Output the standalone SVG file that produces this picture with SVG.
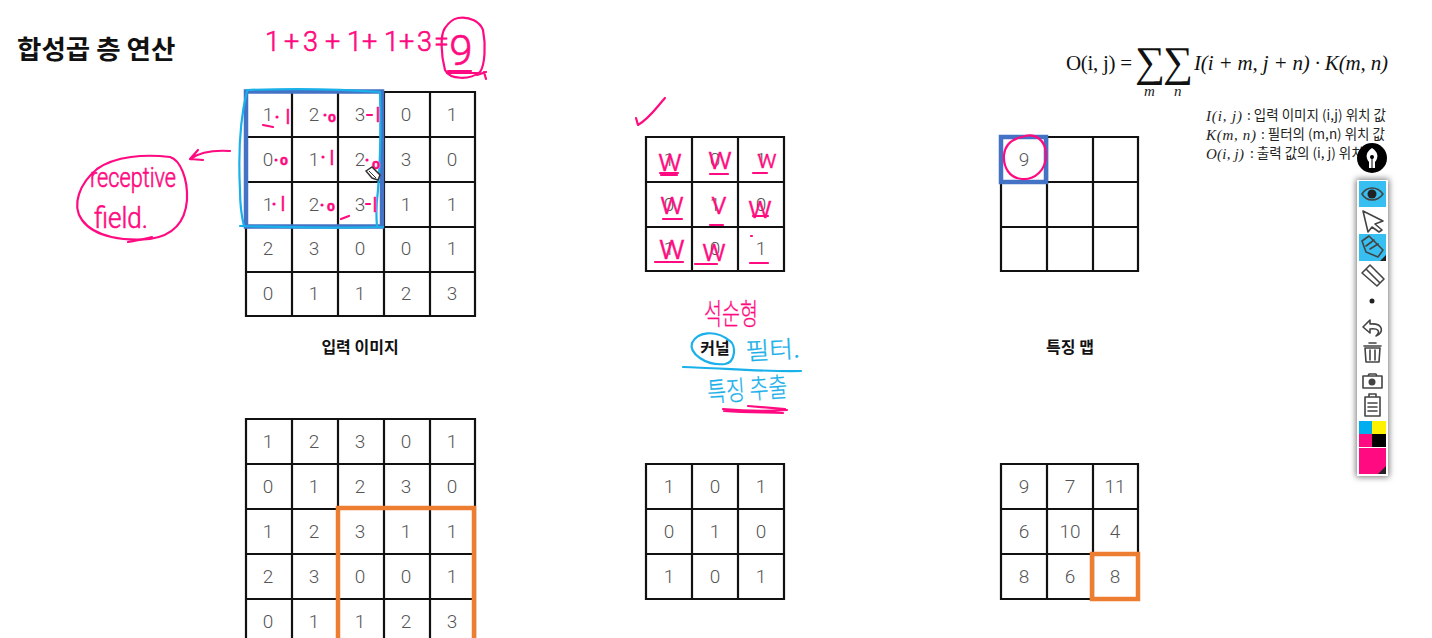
<svg xmlns="http://www.w3.org/2000/svg" width="1432" height="638" viewBox="0 0 1432 638">
<defs>
<filter id="sh" x="-40%" y="-10%" width="180%" height="120%"><feGaussianBlur stdDeviation="3"/></filter>
</defs>
<style>
.cell{fill:none;stroke:#111;stroke-width:2.2}
.n{font:300 19px Roboto,"Noto Sans",sans-serif;fill:#555;text-anchor:middle}
.lb{font:700 16px "Noto Sans CJK KR",sans-serif;fill:#111;text-anchor:middle}
.ttl{font:700 26.5px "Noto Sans CJK KR",sans-serif;fill:#111}
.m{font:21px "Liberation Serif",serif;fill:#111}
.mi{font:italic 21px "Liberation Serif",serif;fill:#111}
.d{font:13.5px "Noto Sans CJK KR",sans-serif;fill:#222}
.dm{font:italic 15px "Liberation Serif",serif;fill:#222}
.p{fill:none;stroke:#ff0a80;stroke-width:2.2;stroke-linecap:round;stroke-linejoin:round}
.b{fill:none;stroke:#1ab0ea;stroke-width:2.2;stroke-linecap:round;stroke-linejoin:round}
.pt{font:300 17px Roboto,"Noto Sans CJK KR",sans-serif;fill:#ff0a80;stroke:#ff0a80;stroke-width:.6}
.pk{font:300 24px "Noto Sans CJK KR",sans-serif;fill:#ff0a80;stroke:#ff0a80;stroke-width:.3}
.pb{font:300 24px "Noto Sans CJK KR",sans-serif;fill:#1ab0ea;stroke:#1ab0ea;stroke-width:.3}
.w{font:300 32px Roboto,sans-serif;fill:#ff0a80;stroke:#ff0a80;stroke-width:.5;text-anchor:middle}
.s{font:400 20px Roboto,sans-serif;fill:#ff0a80;stroke:#ff0a80;stroke-width:.3;text-anchor:middle}
.o{font:700 14px Roboto,sans-serif;fill:#ff0a80;stroke:#ff0a80;stroke-width:.5;text-anchor:middle}
.dot{fill:#ff0a80}
.ic{fill:none;stroke:#444;stroke-width:1.6;stroke-linejoin:round;stroke-linecap:round}
</style>
<rect width="1432" height="638" fill="#fff"/>
<text class="ttl" x="17" y="59">합성곱 층 연산</text>

<g id="input-grid-top">
<path class="cell" d="M246 92H475V316H246ZM246 137H475M246 182H475M246 227H475M246 272H475M292 92V316M338 92V316M384 92V316M430 92V316"/>
<text class="n" x="268" y="121">1</text><text class="n" x="314" y="121">2</text><text class="n" x="360" y="121">3</text><text class="n" x="406" y="121">0</text><text class="n" x="452" y="121">1</text>
<text class="n" x="268" y="166">0</text><text class="n" x="314" y="166">1</text><text class="n" x="360" y="166">2</text><text class="n" x="406" y="166">3</text><text class="n" x="452" y="166">0</text>
<text class="n" x="268" y="211">1</text><text class="n" x="314" y="211">2</text><text class="n" x="360" y="211">3</text><text class="n" x="406" y="211">1</text><text class="n" x="452" y="211">1</text>
<text class="n" x="268" y="255">2</text><text class="n" x="314" y="255">3</text><text class="n" x="360" y="255">0</text><text class="n" x="406" y="255">0</text><text class="n" x="452" y="255">1</text>
<text class="n" x="268" y="300">0</text><text class="n" x="314" y="300">1</text><text class="n" x="360" y="300">1</text><text class="n" x="406" y="300">2</text><text class="n" x="452" y="300">3</text>
</g>
<g id="kernel-top">
<path class="cell" d="M646 137H784V271H646ZM646 182H784M646 227H784M692 137V271M738 137V271"/>
<text class="n" x="669" y="166">1</text><text class="n" x="715" y="166">0</text><text class="n" x="761" y="166">1</text>
<text class="n" x="669" y="211">0</text><text class="n" x="715" y="211">1</text><text class="n" x="761" y="211">0</text>
<text class="n" x="669" y="255">1</text><text class="n" x="715" y="255">0</text><text class="n" x="761" y="255">1</text>
</g>
<g id="feature-top">
<path class="cell" d="M1001 137H1138V271H1001ZM1001 182H1138M1001 227H1138M1047 137V271M1093 137V271"/>
<text class="n" x="1024" y="166">9</text>
</g>
<g id="labels">
<text class="lb" x="360" y="353">입력 이미지</text>
<text class="lb" x="715" y="354">커널</text>
<text class="lb" x="1070" y="353">특징 맵</text>
</g>
<g id="input-grid-bottom">
<path class="cell" d="M246 419H475V644H246ZM246 464H475M246 509H475M246 554H475M246 599H475M292 419V644M338 419V644M384 419V644M430 419V644"/>
<text class="n" x="268" y="448">1</text><text class="n" x="314" y="448">2</text><text class="n" x="360" y="448">3</text><text class="n" x="406" y="448">0</text><text class="n" x="452" y="448">1</text>
<text class="n" x="268" y="493">0</text><text class="n" x="314" y="493">1</text><text class="n" x="360" y="493">2</text><text class="n" x="406" y="493">3</text><text class="n" x="452" y="493">0</text>
<text class="n" x="268" y="538">1</text><text class="n" x="314" y="538">2</text><text class="n" x="360" y="538">3</text><text class="n" x="406" y="538">1</text><text class="n" x="452" y="538">1</text>
<text class="n" x="268" y="583">2</text><text class="n" x="314" y="583">3</text><text class="n" x="360" y="583">0</text><text class="n" x="406" y="583">0</text><text class="n" x="452" y="583">1</text>
<text class="n" x="268" y="628">0</text><text class="n" x="314" y="628">1</text><text class="n" x="360" y="628">1</text><text class="n" x="406" y="628">2</text><text class="n" x="452" y="628">3</text>
<rect x="338" y="508" width="136" height="140" fill="none" stroke="#ed7d31" stroke-width="4.5"/>
</g>
<g id="kernel-bottom">
<path class="cell" d="M646 464H784V599H646ZM646 509H784M646 554H784M692 464V599M738 464V599"/>
<text class="n" x="669" y="493">1</text><text class="n" x="715" y="493">0</text><text class="n" x="761" y="493">1</text>
<text class="n" x="669" y="538">0</text><text class="n" x="715" y="538">1</text><text class="n" x="761" y="538">0</text>
<text class="n" x="669" y="583">1</text><text class="n" x="715" y="583">0</text><text class="n" x="761" y="583">1</text>
</g>
<g id="feature-bottom">
<path class="cell" d="M1001 464H1138V599H1001ZM1001 509H1138M1001 554H1138M1047 464V599M1093 464V599"/>
<text class="n" x="1024" y="493">9</text><text class="n" x="1070" y="493">7</text><text class="n" x="1115" y="493">11</text>
<text class="n" x="1024" y="538">6</text><text class="n" x="1070" y="538">10</text><text class="n" x="1115" y="538">4</text>
<text class="n" x="1024" y="583">8</text><text class="n" x="1070" y="583">6</text><text class="n" x="1115" y="583">8</text>
<rect x="1092" y="554" width="46" height="45" fill="none" stroke="#ed7d31" stroke-width="4.5"/>
</g>
<g id="formula">
<text class="m" x="1066" y="70" textLength="66">O(i, j) =</text>
<text x="1135" y="76" font-family="Liberation Serif,serif" font-size="42" fill="#111">∑</text>
<text x="1163" y="76" font-family="Liberation Serif,serif" font-size="42" fill="#111">∑</text>
<text class="dm" x="1144" y="96">m</text><text class="dm" x="1174" y="96">n</text>
<text class="mi" x="1194" y="70" textLength="194">I(i + m, j + n) · K(m, n)</text>
<text class="dm" x="1206" y="121" textLength="36">I(i, j)</text><text class="d" x="1247" y="120">: 입력 이미지 (i,j) 위치 값</text>
<text class="dm" x="1206" y="140" textLength="50">K(m, n)</text><text class="d" x="1261" y="139">: 필터의 (m,n) 위치 값</text>
<text class="dm" x="1206" y="159" textLength="38">O(i, j)</text><text class="d" x="1250" y="158">: 출력 값의 (i, j) 위치</text>
</g>
<g id="selection-boxes">
<rect x="246" y="91.5" width="136" height="135" fill="none" stroke="#4472c4" stroke-width="4.5"/>
<rect x="1001" y="137" width="45" height="45" fill="none" stroke="#4472c4" stroke-width="4.5"/>
</g>
<g id="ink-blue">
<path class="b" d="M247 90C300 88 340 89 380 92C381 130 380 165 378 190C376 205 376 215 377 227M240 226C300 228 340 228 383 227M247 91C241 115 238 150 240 190C240 205 242 218 244 226"/>
<path class="b" d="M730 341C715 329 697 332 692 343C689 353 705 366 725 364C736 362 736 345 730 341Z"/>
<path class="b" d="M683 367C720 368 765 372 801 371"/>
<text class="pb" x="746" y="360" textLength="54" lengthAdjust="spacingAndGlyphs" transform="rotate(-3 746 360)">필터.</text>
<text class="pb" x="708" y="402" textLength="80" lengthAdjust="spacingAndGlyphs" style="font-size:27px" transform="rotate(-4 708 402)">특징 추출</text>
</g>
<g id="ink-pink">
<text class="pt" y="51" x="265 284 303 325 347 362 384 399 417 434" style="font-size:27px">1+3+1+1+3=</text>
<text class="pt" x="461" y="65" text-anchor="middle" style="font-size:42px">9</text>
<path class="p" d="M458 18C470 16 480 22 483 30C486 45 485 65 480 72C470 80 450 80 445 70C441 55 440 35 445 28C449 22 453 19 458 18Z"/>
<path class="p" d="M448 71H471M447 73H477M477 75L486 72M484 72L486 79"/>
<path class="p" d="M230 151C215 150 200 152 190 159L203 160M190 159L198 150"/>
<path class="p" d="M170 157C145 154 115 156 97 169C80 183 71 205 82 220C95 238 125 241 150 239C170 236 185 225 187 200C188 178 180 160 170 157Z"/>
<path class="p" d="M128 242C138 240 145 239 152 237"/>
<text class="pt" x="90" y="187" style="font-size:27px" textLength="86" lengthAdjust="spacingAndGlyphs">receptive</text>
<text class="pt" x="94" y="228" style="font-size:30px" textLength="54" lengthAdjust="spacingAndGlyphs">field.</text>
<path class="p" d="M263 125L273 127"/>
<g id="ink-products">
<circle class="dot" cx="277" cy="117" r="1.6"/><text class="s" x="288" y="124">l</text>
<circle class="dot" cx="325" cy="115" r="1.6"/><text class="o" x="332" y="122">o</text>
<path class="p" d="M367 115H372"/><text class="s" x="378" y="122">l</text>
<circle class="dot" cx="276" cy="160" r="1.6"/><text class="o" x="284" y="165">o</text>
<circle class="dot" cx="323" cy="157" r="1.6"/><text class="s" x="332" y="165">l</text>
<circle class="dot" cx="367" cy="160" r="1.6"/><text class="o" x="376" y="169">o</text>
<circle class="dot" cx="274" cy="204" r="1.6"/><text class="s" x="283" y="211">l</text>
<circle class="dot" cx="322" cy="205" r="1.6"/><text class="o" x="331" y="211">o</text>
<path class="p" d="M366 204H370"/><text class="s" x="375" y="212">l</text>
</g>
<path class="p" d="M341 219L349 216"/>
<path class="p" d="M636 118L638 125C650 118 656 108 665 98" stroke-width="2.5"/>
<g id="ink-weights">
<text class="w" x="670" y="171">w</text><text class="w" x="720" y="169">w</text><text class="w" x="767" y="168" style="font-size:26px">w</text>
<text class="w" x="672" y="214">w</text><text class="w" x="719" y="214">v</text><text class="w" x="760" y="218">w</text>
<text class="w" x="672" y="259" style="font-size:35px">w</text><text class="w" x="714" y="261">w</text>
</g>
<path class="p" d="M660 173H678M661 175H677M710 174H728M753 173H767M663 219H682M710 225H723M753 216H768M655 262H683M695 264H717M750 263H768M751 236H752"/>
<text class="pk" x="704" y="325" textLength="54" lengthAdjust="spacingAndGlyphs" style="font-size:29px">석순형</text>
<path class="p" d="M723 409C745 411 770 411 787 410M724 411C750 413 770 412 783 413M748 406L785 409" stroke-width="1.8"/>
<path d="M1022 137C1035 132 1046 140 1046 155C1046 170 1035 180 1022 179C1010 178 1003 168 1004 155C1005 145 1012 139 1022 137Z" class="p"/>
</g>
<g id="pen-cursor">
<path d="M366 171L372 167L380 175L378 180L372 178Z" fill="#fff" stroke="#333" stroke-width="1.5"/>
<path d="M369 171L376 178" stroke="#333" stroke-width="1"/>
</g>
<g id="toolbar">
<rect x="1356" y="179" width="33" height="298" fill="#777" filter="url(#sh)"/>
<rect x="1357" y="180" width="31" height="296" fill="#fff"/>
<rect x="1359" y="181" width="27" height="26" fill="#36bff0"/>
<rect x="1359" y="234" width="27" height="27" fill="#36bff0"/>
<circle cx="1372" cy="158" r="15" fill="#000"/>
<path d="M1372 148C1378 152 1379 157 1375 162V168H1369V162C1365 157 1366 152 1372 148Z" fill="#fff"/><circle cx="1372" cy="157" r="2"/><path d="M1372 158V168" stroke="#000" stroke-width="1"/>
<path class="ic" d="M1362 194C1367 186 1377 186 1383 194C1377 202 1367 202 1362 194Z" stroke="#222"/><circle cx="1372" cy="194" r="4.5" fill="#222"/>
<path class="ic" d="M1363 211L1383 221L1375 224L1382 230L1379 232L1372 227L1368 232Z"/>
<path class="ic" d="M1362 241L1369 236L1383 250L1378 257L1366 252Z" fill="#fff"/><path class="ic" d="M1366 246L1374 240M1370 249L1378 244"/><path d="M1380 261L1386 255V261Z" fill="#222"/>
<path class="ic" d="M1362 273L1370 265L1384 279L1377 286ZM1366 269L1380 283"/>
<circle cx="1372" cy="301" r="2.5" fill="#222"/>
<path class="ic" d="M1370 320L1363 327L1370 333V329C1378 328 1381 331 1376 336C1384 333 1384 323 1370 324Z"/>
<path class="ic" d="M1365 348H1380L1379 362H1366ZM1364 346H1381M1369 343H1376M1370 350V360M1375 350V360"/>
<path class="ic" d="M1363 376H1382V388H1363ZM1368 376L1369 374H1376L1377 376"/><circle cx="1372" cy="382" r="3.5" fill="#444"/>
<path class="ic" d="M1365 397H1380V416H1365ZM1369 397V394H1376V397M1368 403H1377M1368 407H1377M1368 411H1377"/>
<rect x="1359" y="421" width="13" height="13" fill="#00aeef"/><rect x="1372" y="421" width="14" height="13" fill="#fff200"/>
<rect x="1359" y="434" width="13" height="13" fill="#ff0a80"/><rect x="1372" y="434" width="14" height="13" fill="#000"/>
<rect x="1359" y="448" width="27" height="26" fill="#ff0a80"/><path d="M1378 474L1386 466V474Z" fill="#222"/>
</g>
</svg>
